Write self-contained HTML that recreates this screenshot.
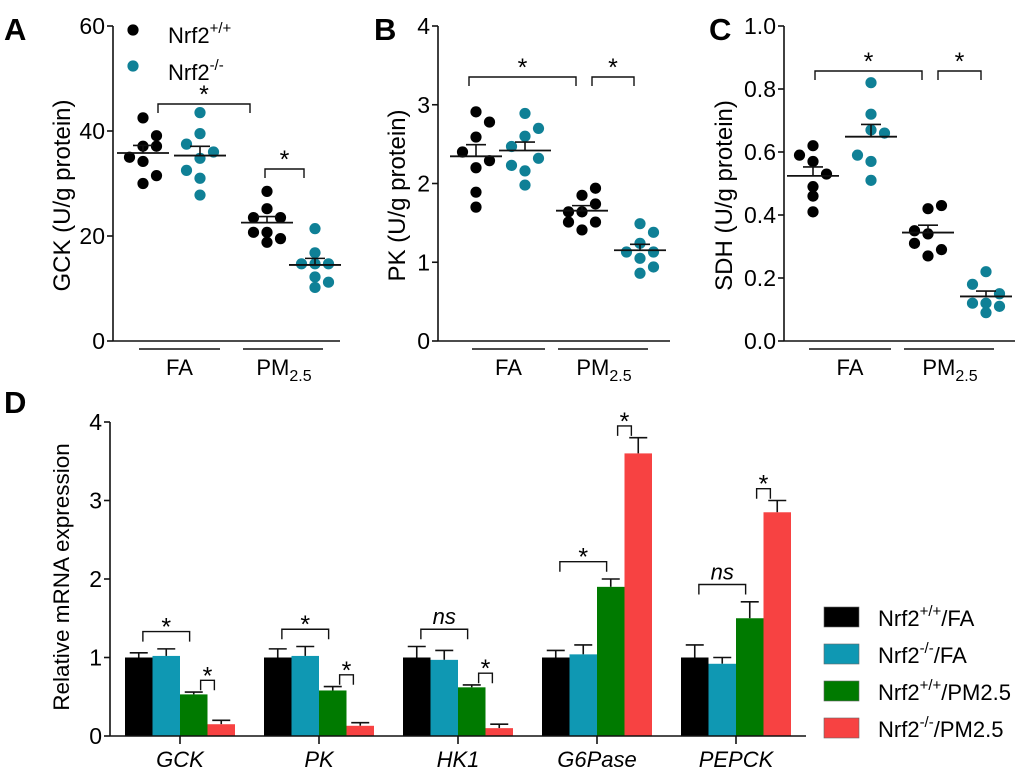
<!DOCTYPE html>
<html><head><meta charset="utf-8"><style>
body{margin:0;background:#fff}
svg{display:block;font-family:"Liberation Sans",Arial,sans-serif}
</style></head><body>
<svg id="fig" width="1020" height="772" viewBox="0 0 1020 772"></svg>
<script>
// ---------- Data ----------
const groupNames = ["FA +/+","FA -/-","PM +/+","PM -/-"];
const gckValues = [[42.5,39.1,37.1,37.1,35.0,34.2,31.5,30.0],[43.5,39.5,37.5,36.0,34.8,32.5,31.0,27.8],[28.5,25.2,23.5,23.5,20.7,20.7,19.5,18.8],[21.4,16.8,14.7,14.7,14.7,12.2,11.2,10.2]];
const gckCols = [[0,1,0,1,-1,0,1,0],[0,0,-1,1,0,-1,0,0],[0,0,-1,1,-1,0,1,0],[0,0,-1,1,0,0,1,0]];
const pkValues = [[2.91,2.78,2.59,2.40,2.29,2.20,1.89,1.70],[2.89,2.70,2.60,2.47,2.32,2.23,2.16,1.98],[1.94,1.85,1.74,1.64,1.64,1.51,1.51,1.41],[1.49,1.38,1.24,1.13,1.13,1.05,0.94,0.86]];
const pkCols = [[0,1,0,-1,1,0,0,0],[0,1,0,-1,1,-1,0,0],[1,0,1,-1,0,-1,1,0],[0,1,0,-1,1,0,1,0]];
const sdhValues = [[0.62,0.59,0.57,0.53,0.49,0.46,0.41],[0.82,0.72,0.67,0.66,0.59,0.57,0.51],[0.43,0.42,0.35,0.34,0.31,0.29,0.27],[0.22,0.18,0.15,0.12,0.12,0.11,0.09]];
const sdhCols = [[0,-1,0,1,0,0,0],[0,0,0,1,-1,0,0],[1,0,-1,0,-1,1,0],[0,-1,1,-1,0,1,0]];
const gckTicks = [0,20,40,60];
const pkTicks = [0,1,2,3,4];
const sdhTicks = ["0.0","0.2","0.4","0.6","0.8","1.0"];

const genes = ["GCK","PK","HK1","G6Pase","PEPCK"];
const seriesNames = ["Nrf2+/+/FA","Nrf2-/-/FA","Nrf2+/+/PM2.5","Nrf2-/-/PM2.5"];
const wtFA = [1.00,1.00,1.00,1.00,1.00];
const koFA = [1.02,1.02,0.97,1.04,0.92];
const wtPM = [0.53,0.58,0.62,1.90,1.50];
const koPM = [0.15,0.13,0.10,3.60,2.85];
const wtFAerr = [0.06,0.11,0.14,0.09,0.16];
const koFAerr = [0.09,0.12,0.12,0.12,0.08];
const wtPMerr = [0.03,0.05,0.03,0.10,0.21];
const koPMerr = [0.05,0.04,0.05,0.20,0.15];
const bracket1 = ["*","*","ns","*","ns"];
const mrnaTicks = [0,1,2,3,4];

// ---------- helpers ----------
const NS="http://www.w3.org/2000/svg";
const svg=document.getElementById('fig');
function mk(tag,attrs,parent){const e=document.createElementNS(NS,tag);for(const k in attrs)e.setAttribute(k,attrs[k]);(parent||svg).appendChild(e);return e;}
function line(x1,y1,x2,y2,g,w){return mk('line',{x1,y1,x2,y2,stroke:'#111','stroke-width':w||1.6},g);}
function txt(s,x,y,size,g,anchor,extra){const t=mk('text',Object.assign({x,y,'font-size':size,'text-anchor':anchor||'middle',fill:'#000'},extra||{}),g);t.textContent=s;return t;}
const colors=["#000000","#0f98b3","#007a00","#f74242"];
const dotColors=["#000000","#0f8096","#000000","#0f8096"];

function scatterPanel(opt){
  const g=mk('g',{});
  
  
  const ys=v=>opt.y0-(v-opt.min)/(opt.max-opt.min)*(opt.y0-opt.yTop);
  const ax=line(opt.ax,opt.yTop,opt.ax,opt.y0,g);
  
  line(opt.ax,opt.y0,opt.axEnd,opt.y0,g);
  opt.ticks.forEach(t=>{const v=parseFloat(t);const y=ys(v);line(opt.ax-6,y,opt.ax,y,g);
    const tl=txt(String(t),opt.ax-8,y+8,23,g,'end');});
  const yt=txt(opt.ytitle,0,0,24,g,'middle',{transform:`translate(${opt.titleX},${(opt.yTop+opt.y0)/2+12}) rotate(-90)`});
  
  const lt=txt(opt.letter,opt.letterX,40,31,g,'start',{'font-weight':'bold'});
  
  line(opt.cx[0]-4,349,opt.cx[1]+20,349,g,1.4);
  line(opt.cx[2]-24,349,opt.cx[3]+8,349,g,1.4);
  const fa=txt('FA',(opt.cx[0]+opt.cx[1])/2+8,375,22,g);
  const pm=mk('text',{x:(opt.cx[2]+opt.cx[3])/2-7,y:375,'font-size':22,'text-anchor':'middle'},g);
  
  pm.innerHTML='PM<tspan font-size="16" dy="6">2.5</tspan>';
  opt.values.forEach((arr,gi)=>{
    arr.forEach((v,i)=>{const c=mk('circle',{cx:opt.cx[gi]+opt.cols[gi][i]*13.5,cy:ys(v),r:5.6,fill:dotColors[gi]},g);
      });
    const n=arr.length,m=arr.reduce((a,b)=>a+b,0)/n;
    const sd=Math.sqrt(arr.reduce((a,b)=>a+(b-m)*(b-m),0)/(n-1)),se=sd/Math.sqrt(n);
    const ml=line(opt.cx[gi]-26,ys(m),opt.cx[gi]+26,ys(m),g,1.8);
    
    line(opt.cx[gi],ys(m),opt.cx[gi],ys(m+se),g,1.6);
    line(opt.cx[gi]-10,ys(m+se),opt.cx[gi]+10,ys(m+se),g,1.6);
  });
  opt.brackets.forEach(b=>{const p=mk('path',{d:`M${b[0]},${b[2]+9}V${b[2]}H${b[1]}V${b[2]+9}`,fill:'none',stroke:'#111','stroke-width':1.4},g);
    
    txt('*',(b[0]+b[1])/2,b[2]-1,25,g);});
  return g;
}

scatterPanel({name:'panel-a-gck',letter:'A',letterX:4,ax:113,axEnd:340,yTop:26,y0:341,min:0,max:60,ticks:gckTicks,ytitle:'GCK (U/g protein)',titleX:70,
  values:gckValues,cols:gckCols,cx:[143,200,267,315],brackets:[[158,250,104],[265,304,169]]});
scatterPanel({name:'panel-b-pk',letter:'B',letterX:374,ax:438,axEnd:670,yTop:26,y0:341,min:0,max:4,ticks:pkTicks,ytitle:'PK (U/g protein)',titleX:405,
  values:pkValues,cols:pkCols,cx:[476,525,582,640],brackets:[[469,576,77],[592,634,77]]});
scatterPanel({name:'panel-c-sdh',letter:'C',letterX:709,ax:784,axEnd:1015,yTop:26,y0:341,min:0,max:1,ticks:sdhTicks,ytitle:'SDH (U/g protein)',titleX:732,
  values:sdhValues,cols:sdhCols,cx:[813,871,928,986],brackets:[[815,922,71],[938,981,71]]});

(function(){const g=mk('g',{});
 mk('circle',{cx:133,cy:30,r:5.6,fill:'#000'},g);mk('circle',{cx:133,cy:66,r:5.6,fill:'#0f8096'},g);
 const t1=mk('text',{x:168,y:43,'font-size':22},g);t1.innerHTML='Nrf2<tspan font-size="15" dy="-10">+/+</tspan>';
 const t2=mk('text',{x:168,y:80,'font-size':22},g);t2.innerHTML='Nrf2<tspan font-size="15" dy="-10">-/-</tspan>';
 
 })();

// ---------- Panel D ----------
(function(){
 const g=mk('g',{});
 const X0=110,Y0=736,YT=422,MAX=4;
 const ys=v=>Y0-v/MAX*(Y0-YT);
 const gc=i=>180+i*139;const bw=27.5;
 const bx=(i,s)=>gc(i)-2*bw+s*bw;
 const lt=txt('D',4,413,31,g,'start',{'font-weight':'bold'});
 const series=[wtFA,koFA,wtPM,koPM],errs=[wtFAerr,koFAerr,wtPMerr,koPMerr];
 genes.forEach((gn,i)=>{
  series.forEach((arr,s)=>{const x=bx(i,s);const v=arr[i],e=errs[s][i];
   const cx=x+bw/2;
   line(cx,ys(v),cx,ys(v+e),g,1.6);line(cx-9,ys(v+e),cx+9,ys(v+e),g,1.6);
   const r=mk('rect',{x:x,y:ys(v),width:bw,height:Y0-ys(v),fill:colors[s]},g);
   });
  const b1=Math.max(wtFA[i]+wtFAerr[i],koFA[i]+koFAerr[i],wtPM[i]+wtPMerr[i])+0.22;
  const x1=bx(i,0)+bw*0.65,x2=bx(i,2)+bw*0.35;
  const p1=mk('path',{d:`M${x1},${ys(b1)+10}V${ys(b1)}H${x2}V${ys(b1)+10}`,fill:'none',stroke:'#111','stroke-width':1.4},g);
  
  if(bracket1[i]==='ns')txt('ns',(x1+x2)/2,ys(b1)-5,22,g,'middle',{'font-style':'italic'});
  else txt('*',(x1+x2)/2,ys(b1)+4,25,g);
  const b2=Math.max(wtPM[i]+wtPMerr[i],koPM[i]+koPMerr[i])+0.15;
  const x3=bx(i,2)+bw*0.75,x4=bx(i,3)+bw*0.25;
  const p2=mk('path',{d:`M${x3},${ys(b2)+10}V${ys(b2)}H${x4}V${ys(b2)+10}`,fill:'none',stroke:'#111','stroke-width':1.4},g);
  
  txt('*',(x3+x4)/2,ys(b2)+4,25,g);
  line(gc(i),Y0,gc(i),Y0+8,g);
  const xl=txt(gn,gc(i),767,22,g,'middle',{'font-style':'italic'});
 });
 line(X0,YT,X0,Y0,g);line(X0,Y0,806,Y0,g);
 mrnaTicks.forEach(t=>{const y=ys(t);line(X0-6,y,X0,y,g);const tl=txt(String(t),X0-8,y+8,23,g,'end');});
 const yt=txt('Relative mRNA expression',0,0,22.5,g,'middle',{transform:`translate(69,${(YT+Y0)/2-2}) rotate(-90)`});
 
 const lg=mk('g',{},g);
 const sup=["+/+","-/-","+/+","-/-"],suf=["/FA","/FA","/PM2.5","/PM2.5"];
 seriesNames.forEach((nm,s)=>{const y=607+s*37;
  const r=mk('rect',{x:824,y:y,width:35,height:20,fill:colors[s],stroke:'#666','stroke-width':0.6},lg);
  
  const t=mk('text',{x:878,y:y+19,'font-size':22},lg);
  t.innerHTML='Nrf2<tspan font-size="15" dy="-10">'+sup[s]+'</tspan><tspan dy="10">'+suf[s]+'</tspan>';
  });
})();
</script>
</body></html>
